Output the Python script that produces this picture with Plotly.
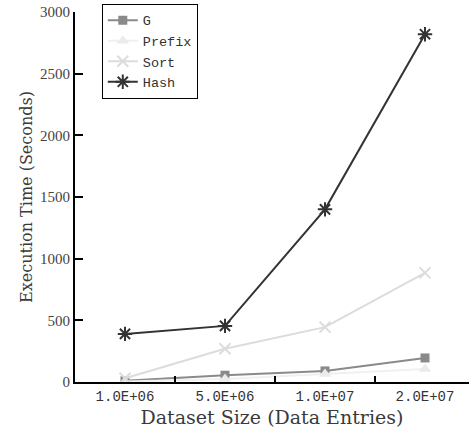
import plotly.graph_objects as go

categories = ["1.0E+06", "5.0E+06", "1.0E+07", "2.0E+07"]
g_vals = [10, 55, 90, 195]
prefix_vals = [5, 25, 65, 105]
sort_vals = [30, 270, 445, 885]
hash_vals = [390, 455, 1400, 2820]
y_ticks = [0, 500, 1000, 1500, 2000, 2500, 3000]

fig = go.Figure()
fig.add_trace(go.Scatter(x=categories, y=g_vals, name="G", mode="lines+markers",
                         line=dict(color="#8a8a8a", width=2),
                         marker=dict(symbol="square", size=9, color="#8a8a8a")))
fig.add_trace(go.Scatter(x=categories, y=prefix_vals, name="Prefix", mode="lines+markers",
                         line=dict(color="#f0f0f0", width=2),
                         marker=dict(symbol="triangle-up", size=11, color="#ebebeb")))
fig.add_trace(go.Scatter(x=categories, y=sort_vals, name="Sort", mode="lines+markers",
                         line=dict(color="#dcdcdc", width=2),
                         marker=dict(symbol="x-thin-open", size=11,
                                     line=dict(color="#d8d8d8", width=2))))
fig.add_trace(go.Scatter(x=categories, y=hash_vals, name="Hash", mode="lines+markers",
                         line=dict(color="#333333", width=2),
                         marker=dict(symbol="asterisk-open", size=12,
                                     line=dict(color="#333333", width=2))))

fig.update_layout(
    width=469, height=440,
    margin=dict(l=75, r=0, t=12, b=58),
    plot_bgcolor="white", paper_bgcolor="white",
    showlegend=True,
    legend=dict(x=0.068, y=1.022, xanchor="left", yanchor="top",
                bordercolor="black", borderwidth=1, bgcolor="white",
                font=dict(family="Liberation Mono", size=13.5, color="#333"),
                tracegroupgap=0, itemwidth=30),
    xaxis=dict(type="category", range=[-0.5, 3.44],
               showline=True, linecolor="black", linewidth=2,
               ticks="inside", tickson="boundaries", ticklen=6, tickwidth=1.5,
               tickcolor="black", showgrid=False, zeroline=False,
               tickfont=dict(family="Liberation Mono", size=14, color="#333"),
               title=dict(text="Dataset Size (Data Entries)",
                          font=dict(family="DejaVu Serif", size=19, color="#3a3a3a"),
                          standoff=7)),
    yaxis=dict(range=[0, 3000], tickvals=y_ticks,
               showline=True, linecolor="black", linewidth=2,
               ticks="inside", ticklen=8, tickwidth=1.5, tickcolor="black",
               showgrid=False, zeroline=False,
               tickfont=dict(family="Liberation Serif", size=15, color="#444"),
               title=dict(text="Execution Time (Seconds)",
                          font=dict(family="DejaVu Serif", size=16, color="#3a3a3a"),
                          standoff=3)),
)

fig.write_html("out.html")
